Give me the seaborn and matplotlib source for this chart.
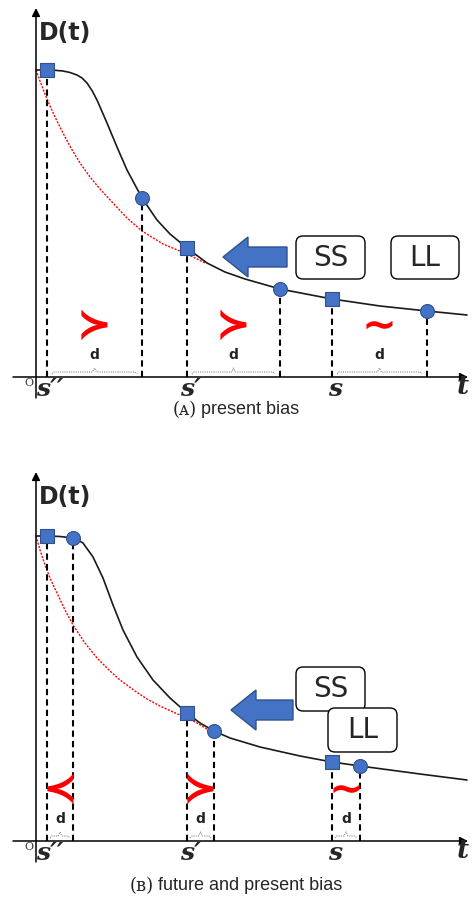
import matplotlib
matplotlib.use("Agg")
import matplotlib.pyplot as plt
import seaborn as sns
from matplotlib.patches import FancyBboxPatch, FancyArrow

# Panel A: present bias (t measured from the origin, D(t) up from the t axis)
a_curve_t = [0, 11, 19, 27, 34, 41, 46, 51, 56, 61, 71, 81, 91, 106, 121, 134,
             151, 171, 189, 209, 244, 296, 344, 391, 431]
a_curve_d = [307, 307, 306.7, 306, 304.5, 302, 299, 294, 286.5, 277, 254, 230,
             207, 179, 157, 143, 129, 114, 105, 98, 88, 78, 71, 66, 62]
a_exp_t = [0, 4, 9, 14, 20, 27, 35, 44, 54, 64, 77, 91, 106, 127, 151, 169]
a_exp_d = [307, 296, 283, 271, 258, 244, 229, 214, 200, 188, 174, 159, 146,
           133, 123, 114]
a_ss_t = [11, 151, 296]
a_ss_d = [307, 129, 78]
a_ll_t = [106, 244, 391]
a_ll_d = [179, 88, 66]
a_relations = ["≻", "≻", "∼"]
a_caption = ["(ᴀ)", " present bias"]

# Panel B: future and present bias
b_curve_t = [0, 11, 24, 37, 42, 47, 57, 67, 77, 87, 101, 117, 134, 151, 164,
             178, 194, 224, 264, 296, 324, 384, 431]
b_curve_d = [305, 305, 304.5, 303, 301, 298, 284, 263, 236, 211, 184, 161, 143,
             128, 118, 110, 103, 94, 85, 79, 75, 67, 61]
b_exp_t = [0, 4, 9, 14, 21, 29, 37, 49, 61, 74, 84, 99, 111, 124, 137, 151,
           161, 174]
b_exp_d = [305, 291, 276, 263, 248, 231, 216, 198, 183, 170, 161, 150, 142,
           135, 129, 123, 118, 110]
b_ss_t = [11, 151, 296]
b_ss_d = [305, 128, 79]
b_ll_t = [37, 178, 324]
b_ll_d = [303, 110, 75]
b_relations = ["≺", "≻", "∼"]
b_caption = ["(ʙ)", " future and present bias"]

time_labels = ["s′′", "s′", "s"]

BLUE = "#4472C4"
BLUE_EDGE = "#2F528F"

sns.set_theme(style="white")
plt.rcParams["font.family"] = ["DejaVu Sans"]

fig = plt.figure(figsize=(4.72, 8.98), dpi=100)
ax_a = fig.add_axes([0, 448 / 898, 1, 450 / 898])
ax_b = fig.add_axes([0, 0, 1, 448 / 898])
ax_a.set_xlim(-36, 436)
ax_a.set_ylim(-73, 377)
ax_b.set_xlim(-36, 436)
ax_b.set_ylim(-57, 391)


def draw_brace(ax, x0, x1, y):
    xm = (x0 + x1) / 2
    xs = [x0, x0 + 2, xm - 2, xm, xm + 2, x1 - 2, x1]
    ys = [y - 2, y, y, y + 4, y, y, y - 2]
    ax.plot(xs, ys, color="#8c8c8c", lw=0.8, ls=(0, (1, 1)))
    ax.text(xm, y + 17, "d", ha="center", va="center", fontsize=10,
            fontweight="semibold", color="#222222")


def draw_panel(ax, curve_t, curve_d, exp_t, exp_d, ss_t, ss_d, ll_t, ll_d,
               relations, caption, inset, cap_y, boxes, arrow):
    ax.axis("off")

    # axes with arrow heads
    ax.annotate("", xy=(0, 369), xytext=(0, -21),
                arrowprops=dict(arrowstyle="-|>", color="black", lw=1.1,
                                mutation_scale=12, shrinkA=0, shrinkB=0))
    ax.annotate("", xy=(432, 0), xytext=(-23, 0),
                arrowprops=dict(arrowstyle="-|>", color="black", lw=1.1,
                                mutation_scale=12, shrinkA=0, shrinkB=0))
    ax.text(3, 344, "D(t)", fontsize=17, fontweight="bold", ha="left",
            va="center", family=["DejaVu Sans"])
    ax.text(-7, -6, "O", fontsize=8, ha="center", va="center",
            family=["DejaVu Serif"], color="#333333")
    for t, lab in zip(ss_t, time_labels):
        ax.text(t + 3, -12, lab, fontsize=18, fontweight="bold", style="italic",
                ha="center", va="center", family=["DejaVu Serif"])
    ax.text(427, -10, "t", fontsize=19, fontweight="bold", style="italic",
            ha="center", va="center", family=["DejaVu Serif"])

    # curves
    sns.lineplot(x=exp_t, y=exp_d, ax=ax, color="red", lw=1.0,
                 linestyle=(0, (1.5, 1)), sort=False, zorder=2)
    sns.lineplot(x=curve_t, y=curve_d, ax=ax, color="#1a1a1a", lw=1.2,
                 sort=False, zorder=3)

    # dashed drop lines
    ax.vlines(ss_t + ll_t, 0, ss_d + ll_d, colors="black",
              linestyles=(0, (3, 2)), lw=1.5, zorder=3)

    sns.scatterplot(x=ss_t, y=ss_d, ax=ax, marker="s", s=95, color=BLUE,
                    edgecolor=BLUE_EDGE, linewidth=0.8, zorder=5)
    sns.scatterplot(x=ll_t, y=ll_d, ax=ax, marker="o", s=100, color=BLUE,
                    edgecolor=BLUE_EDGE, linewidth=0.8, zorder=5)

    # relation symbols and d braces
    for s0, s1, rel in zip(ss_t, ll_t, relations):
        ax.text((s0 + s1) / 2, 51, rel, fontsize=30, fontweight="bold",
                color="red", ha="center", va="center")
        draw_brace(ax, s0 + inset, s1 - inset, 5)

    # SS / LL option boxes
    for (x0, y0, w, h), lab in zip(boxes, ["SS", "LL"]):
        box = FancyBboxPatch((x0, y0), w, h,
                             boxstyle="round,pad=0,rounding_size=7",
                             fc="white", ec="black", lw=1.0, zorder=6)
        ax.add_patch(box)
        ax.text(x0 + w / 2, y0 + h / 2, lab, fontsize=20, ha="center",
                va="center", family=["DejaVu Sans"], zorder=7)

    tail, length, yc = arrow
    ax.add_patch(FancyArrow(tail, yc, -length, 0, width=20, head_width=40,
                            head_length=25, length_includes_head=True,
                            fc=BLUE, ec=BLUE_EDGE, lw=1.0, zorder=6))

    # caption, centred under the panel
    t1 = ax.text(0, cap_y, caption[0], fontsize=13, ha="left", va="center",
                 family=["DejaVu Serif", "DejaVu Sans"])
    t2 = ax.text(0, cap_y, caption[1], fontsize=13, ha="left", va="center",
                 family=["Liberation Sans", "DejaVu Sans"])
    return t1, t2


cap_a = draw_panel(ax_a, a_curve_t, a_curve_d, a_exp_t, a_exp_d, a_ss_t, a_ss_d,
                   a_ll_t, a_ll_d, a_relations, a_caption, 5, -33,
                   [(260, 98, 69, 43), (355, 98, 68, 43)], (251, 64, 120))
cap_b = draw_panel(ax_b, b_curve_t, b_curve_d, b_exp_t, b_exp_d, b_ss_t, b_ss_d,
                   b_ll_t, b_ll_d, b_relations, b_caption, 3, -45,
                   [(260, 130, 69, 44), (292, 89, 69, 44)], (257, 62, 131))

fig.canvas.draw()
renderer = fig.canvas.get_renderer()
for t1, t2 in [cap_a, cap_b]:
    w1 = t1.get_window_extent(renderer).width
    w2 = t2.get_window_extent(renderer).width
    start = 200 - (w1 + w2) / 2
    t1.set_x(start)
    t2.set_x(start + w1)

fig.savefig("out.png", dpi=100)
